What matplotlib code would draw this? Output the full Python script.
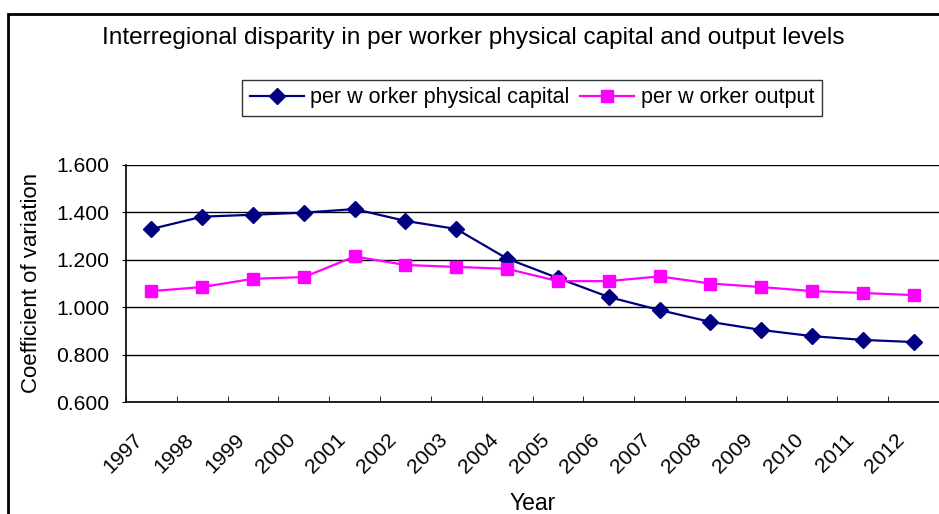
import numpy as np
import matplotlib
matplotlib.use('Agg')
import matplotlib.pyplot as plt
from matplotlib.patches import Rectangle
from matplotlib.transforms import ScaledTranslation

# ---------- data ----------
years = ['1997', '1998', '1999', '2000', '2001', '2002', '2003', '2004',
         '2005', '2006', '2007', '2008', '2009', '2010', '2011', '2012']
capital = [1.330, 1.382, 1.390, 1.399, 1.414, 1.364, 1.330, 1.205,
           1.123, 1.043, 0.988, 0.938, 0.904, 0.878, 0.862, 0.853]
output = [1.068, 1.085, 1.120, 1.127, 1.214, 1.178, 1.170, 1.162,
          1.110, 1.110, 1.130, 1.100, 1.085, 1.068, 1.060, 1.051]
yticks = [0.6, 0.8, 1.0, 1.2, 1.4, 1.6]

plt.rcParams['font.family'] = ['Liberation Sans', 'DejaVu Sans']

W, H = 939, 514
fig = plt.figure(figsize=(W / 100, H / 100), dpi=100)
ax = fig.add_axes([126 / W, 1 - 402 / H, (W - 126) / W, (402 - 165) / H])

x = np.arange(len(years))
ax.plot(x, capital, color='#000080', lw=1.6, marker='D', ms=8.5,
        label='per w orker physical capital')
ax.plot(x, output, color='#FF00FF', lw=1.6, marker='s', ms=8.5,
        label='per w orker output')

ax.set_xlim(-0.5, len(years) - 0.5)
ax.set_ylim(0.6, 1.6)
ax.set_yticks(yticks)
ax.set_yticklabels([f'{v:.3f}' for v in yticks], fontsize=15.2)
ax.set_xticks(x)
ax.set_xticklabels(years, rotation=45, ha='right', va='top', fontsize=15.2)
ax.tick_params(axis='x', length=0, pad=20)
shift = ScaledTranslation(-5 / 100, 0, fig.dpi_scale_trans)
for lab in ax.get_xticklabels():
    lab.set_transform(lab.get_transform() + shift)
ax.set_xticks(np.arange(len(years) + 1) - 0.5, minor=True)
ax.tick_params(axis='x', which='minor', direction='in', length=4, color='black')
ax.tick_params(axis='y', direction='out', length=3, color='black', pad=9)

ax.grid(axis='y', color='black', lw=1)
ax.set_axisbelow(True)
for s in ['top', 'right']:
    ax.spines[s].set_visible(False)
for s in ['left', 'bottom']:
    ax.spines[s].set_color('black')
    ax.spines[s].set_linewidth(1.2)

ax.set_ylabel('Coefficient of variation', fontsize=16, va='center')
ax.yaxis.set_label_coords(32 / W, 1 - 283 / H, transform=fig.transFigure)
ax.set_xlabel('Year', fontsize=16.5, va='center')
ax.xaxis.set_label_coords(533 / W, 1 - 503 / H, transform=fig.transFigure)

fig.text(473 / W, 1 - 38 / H, 'Interregional disparity in per worker physical capital and output levels',
         ha='center', va='center', fontsize=17.6)

leg = fig.legend(loc='center', bbox_to_anchor=(532 / W, 1 - 98 / H), ncol=2,
                 fontsize=15.5, frameon=True, fancybox=False, edgecolor='black',
                 handlelength=2.5, columnspacing=0.5, handletextpad=0.3,
                 borderpad=0.35)
leg.get_frame().set_linewidth(1)

# outer chart border
fig.patches.append(Rectangle((8 / W, -0.1), 1.2, 1 - 14 / H + 0.1,
                             transform=fig.transFigure, fill=False,
                             edgecolor='black', lw=2))

fig.savefig('out.png', dpi=100)
